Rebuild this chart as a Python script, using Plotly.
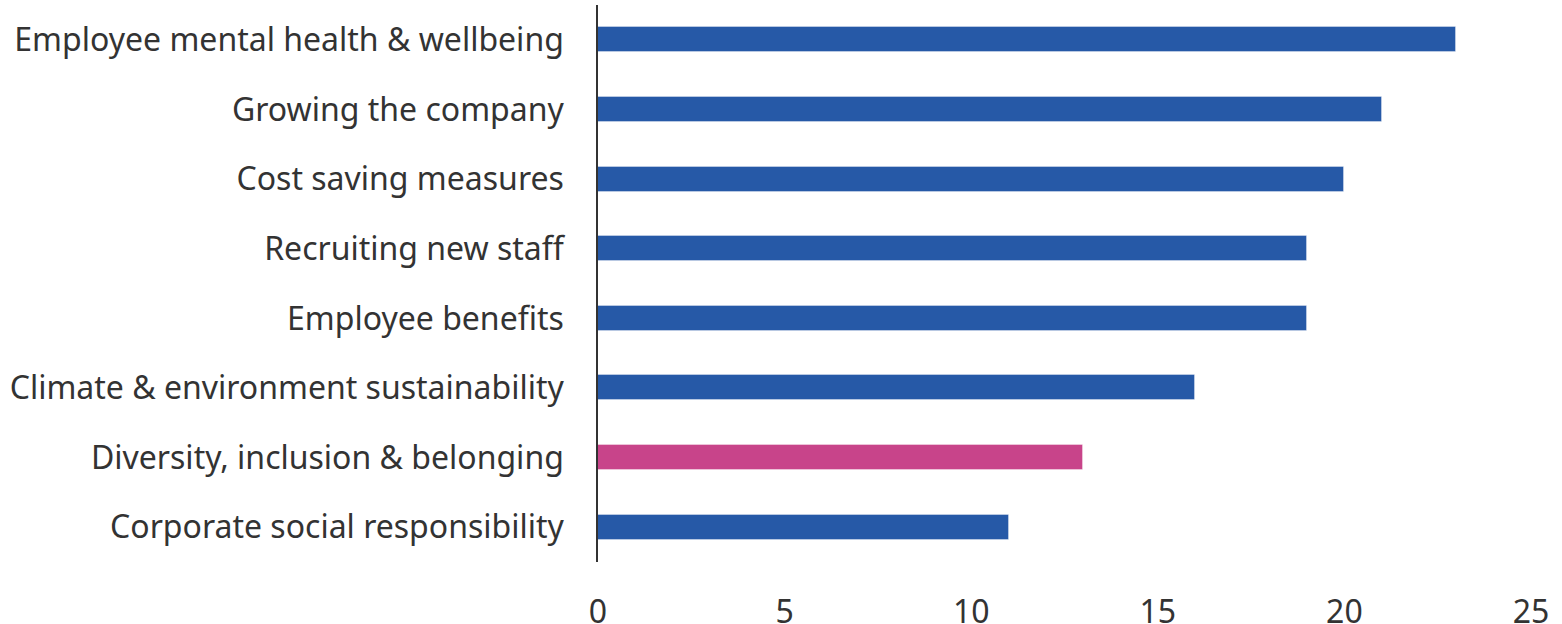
import plotly.graph_objects as go

categories = [
    "Employee mental health & wellbeing",
    "Growing the company",
    "Cost saving measures",
    "Recruiting new staff",
    "Employee benefits",
    "Climate & environment sustainability",
    "Diversity, inclusion & belonging",
    "Corporate social responsibility",
]
values = [23, 21, 20, 19, 19, 16, 13, 11]
highlight = "Diversity, inclusion & belonging"
tick_vals = [0, 5, 10, 15, 20, 25]

BLUE = "#2659A7"
PINK = "#C8448A"
colors = [PINK if c == highlight else BLUE for c in categories]

fig = go.Figure(go.Bar(
    x=values,
    y=categories,
    orientation="h",
    marker=dict(color=colors, line=dict(color="rgba(255,255,255,0.35)", width=1)),
    width=0.36,
    hoverinfo="x+y",
))

fig.update_layout(
    width=1562, height=624,
    margin=dict(l=598, r=31, t=5, b=62),
    paper_bgcolor="white", plot_bgcolor="white",
    font=dict(family="Noto Sans, Open Sans, sans-serif", size=32, color="#333333"),
    showlegend=False,
    bargap=0,
)
fig.update_xaxes(
    range=[0, 25], tickvals=tick_vals, showgrid=False, zeroline=False,
    showline=False, ticks="", ticklabelstandoff=28, automargin=False,
    tickfont=dict(size=32, color="#333333"),
)
fig.update_yaxes(
    categoryorder="array", categoryarray=categories[::-1],
    range=[-0.5, len(categories) - 0.5],
    showgrid=False, zeroline=False, showline=True, linecolor="#333333", linewidth=1.5,
    ticks="", ticklabelstandoff=26, automargin=False,
    tickfont=dict(size=32, color="#333333"),
)

fig.write_html(
    "out.html",
    config={"displayModeBar": False},
    post_script="document.body.style.margin='0px';document.body.style.overflow='hidden';",
)
